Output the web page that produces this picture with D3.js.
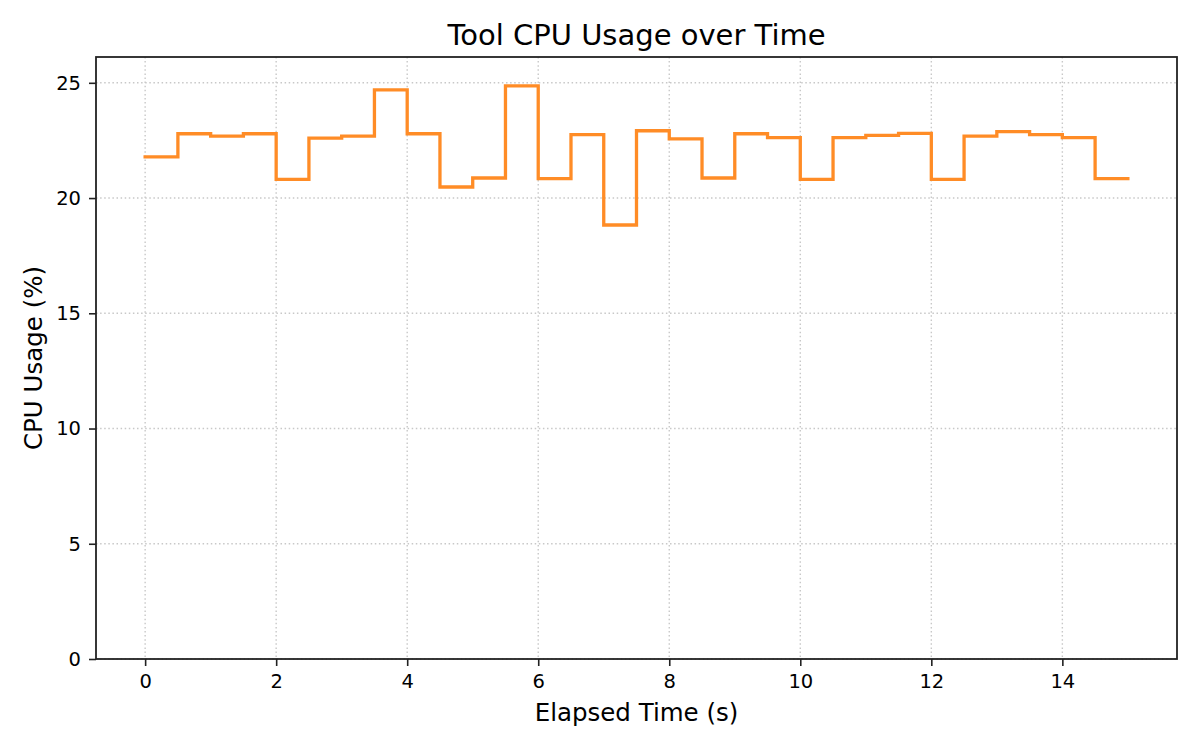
<!DOCTYPE html>
<html>
<head>
<meta charset="utf-8">
<script src="https://cdn.jsdelivr.net/npm/d3@7"></script>
<style>
  body { margin: 0; background: #fff; }
  svg { font-family: "DejaVu Sans", sans-serif; }
  .axis-title { font-size: 24.5px; fill: #000; }
</style>
</head>
<body>
<svg id="chart" width="1200" height="750"></svg>
<script>
// sample times (s) and cpu usage (%)
let times = [0, 0.5, 1, 1.5, 2, 2.5, 3, 3.5, 4, 4.5, 5, 5.5, 6, 6.5, 7, 7.5,
  8, 8.5, 9, 9.5, 10, 10.5, 11, 11.5, 12, 12.5, 13, 13.5, 14, 14.5, 15];
let cpuUsage = [21.79, 22.79, 22.69, 22.79, 20.81, 22.60, 22.69, 24.69, 22.79, 20.48,
  20.87, 24.87, 20.84, 22.75, 18.83, 22.92, 22.57, 20.87, 22.79, 22.62,
  20.81, 22.62, 22.72, 22.81, 20.81, 22.69, 22.88, 22.75, 22.62, 20.84, 20.84];
let xTicks = [0, 2, 4, 6, 8, 10, 12, 14];
let yTicks = [0, 5, 10, 15, 20, 25];

let svg = d3.select("svg#chart");

const margin = {
  top: 57,
  bottom: 91,
  left: 96,
  right: 23
};
const width = 1200;
const height = 750;
let plotWidth = width - margin.left - margin.right;
let plotHeight = height - margin.top - margin.bottom;

let xScale = d3.scaleLinear()
  .domain([-0.75, 15.75])
  .range([0, plotWidth]);

let yScale = d3.scaleLinear()
  .domain([0, 26.12])
  .range([plotHeight, 0]);

const plot = svg.append("g").attr("id", "plot");
plot.attr("transform", translate(margin.left, margin.top));

// dotted grid
let grid = plot.append("g").attr("id", "grid");
grid.selectAll("line.vgrid")
  .data(xTicks)
  .enter().append("line")
  .attr("class", "vgrid")
  .attr("x1", d => xScale(d)).attr("x2", d => xScale(d))
  .attr("y1", 0).attr("y2", plotHeight);
grid.selectAll("line.hgrid")
  .data(yTicks)
  .enter().append("line")
  .attr("class", "hgrid")
  .attr("x1", 0).attr("x2", plotWidth)
  .attr("y1", d => yScale(d)).attr("y2", d => yScale(d));
grid.selectAll("line")
  .attr("stroke", "#c8c8c8")
  .attr("stroke-width", 1.4)
  .attr("stroke-dasharray", "1.5,2.6");

// step line
let line = d3.line()
  .x((d, i) => xScale(times[i]))
  .y(d => yScale(d))
  .curve(d3.curveStepAfter);

plot.append("path")
  .datum(cpuUsage)
  .attr("d", line)
  .attr("fill", "none")
  .attr("stroke", "#ff8c26")
  .attr("stroke-width", 3.3)
  .attr("stroke-linejoin", "miter")
  .attr("stroke-linecap", "square");

// axes
let xAxis = d3.axisBottom(xScale).tickValues(xTicks).tickSize(7).tickPadding(8);
let yAxis = d3.axisLeft(yScale).tickValues(yTicks).tickSize(7).tickPadding(8);

let xGroup = plot.append("g").attr("id", "x-axis");
xGroup.call(xAxis);
xGroup.attr("transform", translate(0, plotHeight));

let yGroup = plot.append("g").attr("id", "y-axis");
yGroup.call(yAxis);

plot.selectAll(".domain").remove();
plot.selectAll(".tick line").attr("stroke", "#222").attr("stroke-width", 1.6);
plot.selectAll(".tick text")
  .attr("fill", "#000")
  .style("font-size", "19.5px")
  .style("font-family", "'DejaVu Sans'");

// frame
plot.append("rect")
  .attr("x", 0).attr("y", 0)
  .attr("width", plotWidth).attr("height", plotHeight)
  .attr("fill", "none")
  .attr("stroke", "#222")
  .attr("stroke-width", 1.8);

// titles
svg.append("text")
  .attr("x", margin.left + plotWidth / 2)
  .attr("y", 45)
  .attr("text-anchor", "middle")
  .style("font-size", "29px")
  .text("Tool CPU Usage over Time");

svg.append("text")
  .attr("class", "axis-title")
  .attr("x", margin.left + plotWidth / 2)
  .attr("y", 721)
  .attr("text-anchor", "middle")
  .text("Elapsed Time (s)");

const yTitleGroup = svg.append("g");
yTitleGroup.attr("transform", translate(42, margin.top + plotHeight / 2));
yTitleGroup.append("text")
  .attr("class", "axis-title")
  .attr("text-anchor", "middle")
  .attr("transform", "rotate(-90)")
  .text("CPU Usage (%)");

/*
 * returns a translate string for the transform attribute
 */
function translate(x, y) {
  return "translate(" + String(x) + "," + String(y) + ")";
}
</script>
</body>
</html>
